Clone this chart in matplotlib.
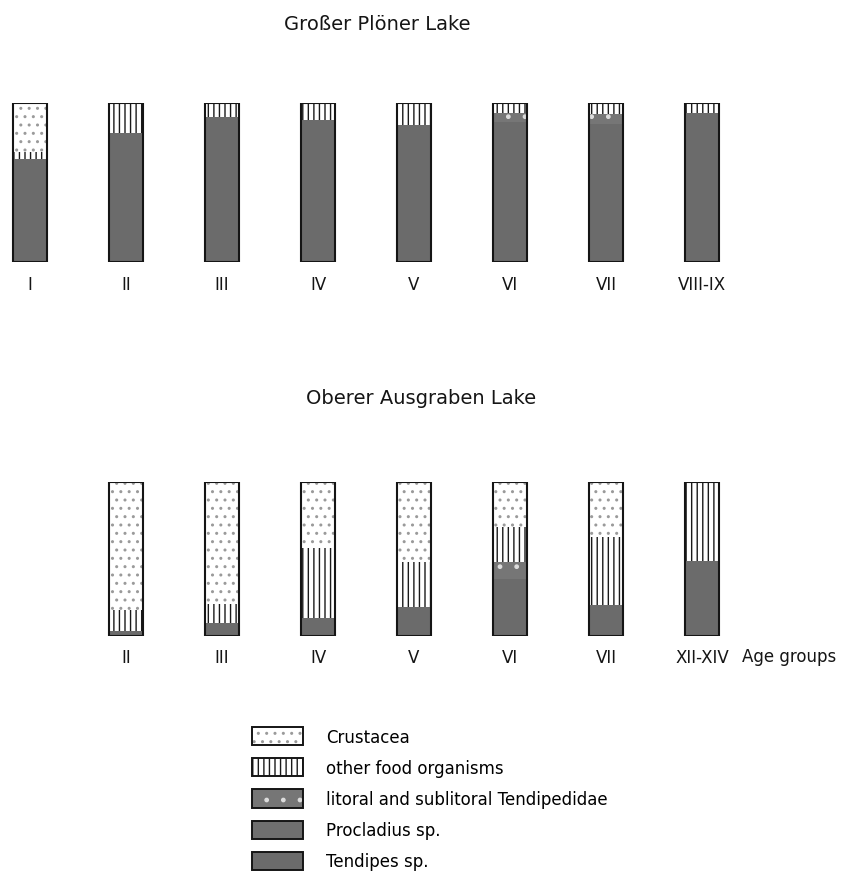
"""Stomach contents of bream by age group, two lakes (stacked fraction bars)."""
import numpy as np
import matplotlib; matplotlib.use("Agg")
import matplotlib.pyplot as plt
from matplotlib.patches import Patch

plt.rcParams["font.family"] = ["DejaVu Sans"]
plt.rcParams["hatch.linewidth"] = 1.0

# ── data (fractions of food, bottom -> top stacked) ──
plon_groups = ["I", "II", "III", "IV", "V", "VI", "VII", "VIII-IX"]
plon_tendipes    = [0.65, 0.81, 0.91, 0.89, 0.86, 0.88, 0.87, 0.94]
plon_procladius  = [0.00, 0.00, 0.00, 0.00, 0.00, 0.00, 0.00, 0.00]
plon_litoral     = [0.00, 0.00, 0.00, 0.00, 0.00, 0.06, 0.06, 0.00]
plon_other       = [0.04, 0.19, 0.09, 0.11, 0.14, 0.06, 0.07, 0.06]
plon_crustacea   = [0.31, 0.00, 0.00, 0.00, 0.00, 0.00, 0.00, 0.00]

ausg_groups = ["II", "III", "IV", "V", "VI", "VII", "XII-XIV"]
ausg_tendipes    = [0.03, 0.085, 0.12, 0.19, 0.37, 0.20, 0.49]
ausg_procladius  = [0.00, 0.00, 0.00, 0.00, 0.00, 0.00, 0.00]
ausg_litoral     = [0.00, 0.00, 0.00, 0.00, 0.11, 0.00, 0.00]
ausg_other       = [0.14, 0.12, 0.45, 0.29, 0.23, 0.44, 0.51]
ausg_crustacea   = [0.83, 0.795, 0.43, 0.52, 0.29, 0.36, 0.00]

legend_labels = ["Crustacea", "other food organisms", "litoral and sublitoral Tendipedidae",
                 "Procladius sp.", "Tendipes sp."]

# styles: (face, hatch, hatch colour)
ST = {
    "crus": ("white", "..", "#9a9a9a"),
    "other": ("white", "|||", "#1a1a1a"),
    "lit": ("#767676", ".", "#dcdcdc"),
    "proc": ("#6f6f6f", None, "none"),
    "tend": ("#6b6b6b", None, "none"),
}

W, H = 846, 878
fig = plt.figure(figsize=(W/100, H/100), dpi=100)
X0, DX = 30, 96.0          # pixel centre of slot 0, slot spacing
xlim = (-X0/DX, (W-X0)/DX)
BW = 0.36
INK = "#151515"

def panel(bot_px, top_px, start, groups, stacks):
    ax = fig.add_axes([0, 1-bot_px/H, 1, (bot_px-top_px)/H])
    x = np.arange(len(groups)) + start
    base = np.zeros(len(groups))
    for key, vals in stacks:
        face, hatch, hc = ST[key]
        ax.bar(x, vals, BW, bottom=base, color=face, hatch=hatch, edgecolor=hc, lw=0)
        base = base + np.array(vals)
    ax.bar(x, base, BW, fill=False, edgecolor=INK, lw=1.5)
    ax.set_xlim(*xlim); ax.set_ylim(0, 1.0)
    for s in ax.spines.values(): s.set_visible(False)
    ax.set_yticks([])
    ax.set_xticks(x, groups, fontsize=12, color=INK)
    ax.tick_params(axis="x", length=0, pad=9)
    ax.patch.set_alpha(0)
    return ax

panel(263, 104, 0, plon_groups,
      [("tend", plon_tendipes), ("proc", plon_procladius), ("lit", plon_litoral),
       ("other", plon_other), ("crus", plon_crustacea)])
panel(637, 483, 1, ausg_groups,
      [("tend", ausg_tendipes), ("proc", ausg_procladius), ("lit", ausg_litoral),
       ("other", ausg_other), ("crus", ausg_crustacea)])

fig.text(377/W, 1-24/H, "Großer Plöner Lake", ha="center", va="center", fontsize=14, color=INK)
fig.text(421/W, 1-399/H, "Oberer Ausgraben Lake", ha="center", va="center", fontsize=14, color=INK)
fig.text(742/W, 1-657/H, "Age groups", ha="left", va="center", fontsize=12, color=INK)

# legend: fill/hatch patch overlaid with a black outline
handles = [(Patch(facecolor=ST[k][0], hatch=ST[k][1], edgecolor=ST[k][2], lw=0),
            Patch(fill=False, edgecolor=INK, lw=1.4))
           for k in ["crus", "other", "lit", "proc", "tend"]]
fig.legend(handles, legend_labels, loc="upper left",
           bbox_to_anchor=(252/W, 1-728/H), frameon=False, fontsize=12,
           handlelength=3.05, handleheight=1.3, labelspacing=0.75, handletextpad=1.4,
           borderpad=0, borderaxespad=0)

fig.savefig("out.png", dpi=100, facecolor="white")
